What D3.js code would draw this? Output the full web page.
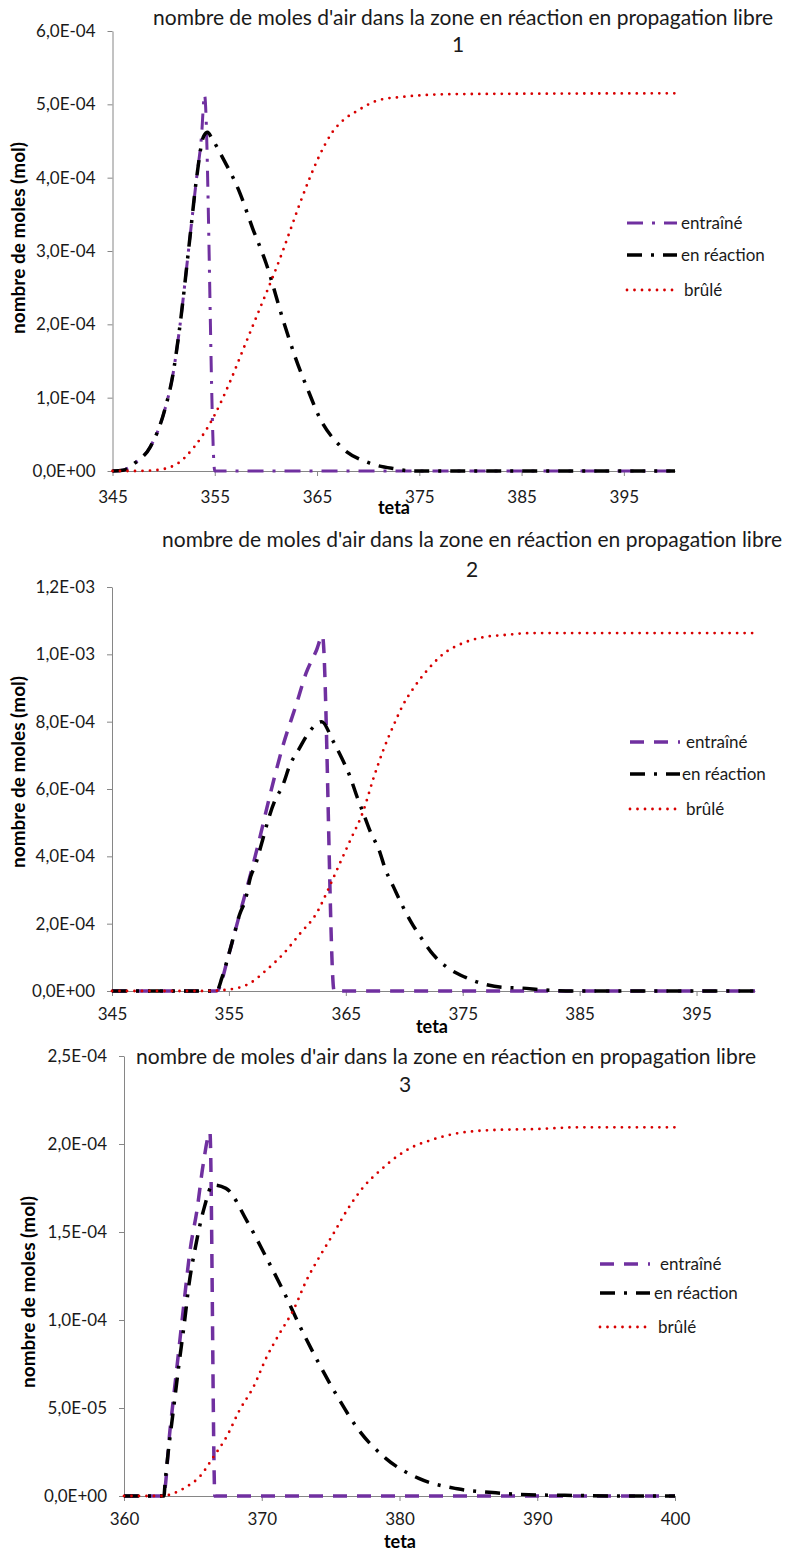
<!DOCTYPE html>
<html>
<head>
<meta charset="utf-8">
<script src="https://cdn.jsdelivr.net/npm/d3@7"></script>
<style>
  body { margin: 0; background: #fff; }
  text { font-family: Lato, "Open Sans", sans-serif; }
</style>
</head>
<body>
<div id="chart"></div>
<script>
// ---- data, chart 1 (mol x 1e-4) ----
const teta1Entraine = [345, 346, 347.2, 348.7, 350.1, 350.9, 351.5, 352.6, 353.2, 353.7, 354.0, 355.0, 400];
const entraine1 = [0, 0.01, 0.11, 0.33, 0.83, 1.31, 1.88, 3.22, 3.97, 4.56, 5.13, 0, 0];
const teta1Reaction = [345, 346, 347.2, 348.7, 350.1, 350.9, 351.5, 352.6, 353.2, 353.9, 354.3, 354.7, 355.7, 357.4, 358.7, 360.0, 361.7, 362.9, 364.3, 365.2, 367.2, 370.1, 372.6, 374.5, 400];
const reaction1 = [0, 0.01, 0.11, 0.33, 0.83, 1.31, 1.88, 3.22, 3.97, 4.56, 4.62, 4.54, 4.29, 3.81, 3.31, 2.84, 2.05, 1.54, 1.04, 0.74, 0.35, 0.11, 0.03, 0, 0];
const teta1Brule = [345, 347, 349.1, 351.1, 353.0, 354.9, 356.5, 357.9, 359.6, 360.6, 361.6, 362.5, 363.3, 364.3, 365.2, 366.5, 367.7, 368.8, 371.1, 373.2, 376.0, 379.0, 400];
const brule1 = [0, 0, 0.01, 0.08, 0.33, 0.74, 1.22, 1.7, 2.28, 2.62, 2.98, 3.33, 3.64, 4.0, 4.29, 4.62, 4.8, 4.9, 5.06, 5.10, 5.13, 5.14, 5.15];

// ---- data, chart 2 (mol x 1e-4) ----
const teta2Entraine = [345, 353.95, 355.0, 355.9, 356.8, 357.5, 358.5, 359.6, 360.8, 361.6, 362.5, 363.0, 364.0, 400];
const entraine2 = [0, 0, 1.1, 2.26, 3.4, 4.35, 5.8, 7.26, 8.55, 9.44, 10.13, 10.55, 0, 0];
const teta2Reaction = [345, 353.95, 354.4, 355.0, 355.4, 355.9, 356.4, 356.86, 357.26, 357.9, 358.3, 358.9, 359.6, 360.2, 361.0, 361.9, 362.94, 363.9, 364.65, 365.36, 365.96, 366.5, 367.1, 367.84, 368.4, 369.07, 369.8, 370.6, 371.5, 372.5, 373.8, 375.2, 376.8, 378.4, 379.9, 382, 385, 400];
const reaction2 = [0, 0, 0.39, 1.1, 1.61, 2.26, 2.7, 3.4, 3.74, 4.51, 5.01, 5.63, 6.1, 6.7, 7.19, 7.71, 8.0, 7.43, 6.92, 6.37, 5.77, 5.28, 4.73, 4.19, 3.6, 3.1, 2.56, 2.04, 1.55, 1.07, 0.67, 0.41, 0.21, 0.11, 0.09, 0.03, 0, 0];
const teta2Brule = [345, 353, 355.1, 356.8, 358.2, 359.7, 361.1, 362.5, 363.6, 364.5, 365.4, 366.5, 367.35, 368.2, 369.1, 369.9, 370.8, 371.9, 373.3, 375.0, 376.8, 378.8, 380.6, 400];
const brule2 = [0, 0, 0.05, 0.23, 0.62, 1.12, 1.71, 2.31, 3.1, 3.8, 4.49, 5.35, 6.3, 7.15, 7.9, 8.5, 9.0, 9.5, 10.0, 10.33, 10.51, 10.58, 10.63, 10.63];

// ---- data, chart 3 (mol x 1e-5) ----
const teta3Entraine = [360, 362.86, 363.34, 363.82, 364.3, 364.8, 365.3, 365.76, 366.24, 366.6, 400];
const entraine3 = [0, 0, 3.75, 7.16, 10.57, 13.98, 16.25, 18.9, 20.65, 0, 0];
const teta3Reaction = [360, 362.9, 362.98, 363.65, 364.0, 364.38, 364.72, 365.2, 365.83, 366.44, 367.4, 368.95, 370.3, 371.6, 372.8, 374.1, 375.5, 377.0, 379.0, 381.4, 384.2, 387, 390, 393, 396, 400];
const reaction3 = [0, 0, 0.72, 5.3, 7.54, 9.81, 12.03, 14.2, 16.4, 17.67, 17.48, 15.59, 13.6, 11.6, 9.6, 7.6, 5.64, 3.79, 2.14, 1.0, 0.41, 0.18, 0.06, 0.03, 0, 0];
const teta3Brule = [360, 362.8, 363.6, 364.55, 365.5, 366.5, 367.45, 368.4, 369.4, 370.36, 371.3, 372.3, 373.26, 374.2, 375.2, 376.2, 377.4, 378.6, 379.8, 381.0, 382.2, 384.15, 387, 390, 393, 400];
const brule3 = [0, 0, 0.15, 0.53, 1.1, 2.23, 3.37, 4.89, 6.2, 7.9, 9.24, 10.57, 12.27, 13.6, 14.9, 16.25, 17.57, 18.5, 19.28, 19.85, 20.2, 20.6, 20.8, 20.85, 20.95, 20.95];

// ---- ticks and labels ----
const xTicks1 = [345, 355, 365, 375, 385, 395];
const xTicks3 = [360, 370, 380, 390, 400];
const yTicks1 = [0, 1e-4, 2e-4, 3e-4, 4e-4, 5e-4, 6e-4];
const yTicks2 = [0, 2e-4, 4e-4, 6e-4, 8e-4, 1e-3, 1.2e-3];
const yTicks3 = [0, 5e-5, 1e-4, 1.5e-4, 2e-4, 2.5e-4];
const seriesNames = ['entraîné', 'en réaction', 'brûlé'];
const titleText = "nombre de moles d'air dans la zone en réaction en propagation libre";
const yTitle = 'nombre de moles (mol)';
const xTitle = 'teta';

const purple = '#7030a0', black = '#000000', red = '#d80000';
const stDashDot = { stroke: purple, width: 3, dash: '16 9 3 9', cap: 'butt' };
const stDash = { stroke: purple, width: 3.5, dash: '14 10', cap: 'butt' };
const stBlack = { stroke: black, width: 3.5, dash: '15 9 3 9', cap: 'butt' };
const stRed = { stroke: red, width: 2.8, dash: '0 7.5', cap: 'round' };

const svg = d3.select('#chart')
  .append('svg')
  .attr('width', 787)
  .attr('height', 1556);

function fmtE(d) {
  if (d === 0) return '0,0E+00';
  const e = Math.floor(Math.log10(d) + 1e-9);
  const m = d / Math.pow(10, e);
  return m.toFixed(1).replace('.', ',') + 'E' + (e < 0 ? '-' : '+') + String(Math.abs(e)).padStart(2, '0');
}

function styled(sel, st) {
  return sel.attr('fill', 'none')
    .attr('stroke', st.stroke)
    .attr('stroke-width', st.width)
    .attr('stroke-dasharray', st.dash)
    .attr('stroke-linecap', st.cap);
}

function drawChart(c) {
  const x = d3.scaleLinear().domain(c.xDomain).range([c.left, c.right]);
  const y = d3.scaleLinear().domain(c.yDomain).range([c.bottom, c.top]);
  const g = svg.append('g');

  // axes
  const ya = g.append('g')
    .attr('transform', `translate(${c.left},0)`)
    .call(d3.axisLeft(y).tickValues(c.yTicks).tickFormat(fmtE).tickSize(5).tickSizeOuter(0).tickPadding(12));
  const xa = g.append('g')
    .attr('transform', `translate(0,${c.bottom})`)
    .call(d3.axisBottom(x).tickValues(c.xTicks).tickFormat(d3.format('d')).tickSize(5).tickSizeOuter(0).tickPadding(c.xPad));
  [ya, xa].forEach(a => {
    a.select('.domain').attr('stroke', '#868686');
    a.selectAll('.tick line').attr('stroke', '#868686');
    a.selectAll('.tick text').attr('fill', '#1a1a1a').style('font-size', '17px').style('font-family', 'Lato');
  });

  // series
  const line = d3.line()
    .x(d => x(d[0]))
    .y(d => y(d[1]))
    .curve(d3.curveMonotoneX);
  c.series.forEach(s => {
    const pts = s.t.map((t, i) => [t, s.v[i] * c.unit]);
    styled(g.append('path').attr('d', line(pts)), s.st);
  });

  // titles
  g.append('text').attr('x', c.t1[0]).attr('y', c.t1[1]).attr('text-anchor', 'middle')
    .style('font-size', '21px').attr('fill', '#1a1a1a').text(titleText);
  g.append('text').attr('x', c.t2[0]).attr('y', c.t2[1]).attr('text-anchor', 'middle')
    .style('font-size', '21px').attr('fill', '#1a1a1a').text(c.num);
  g.append('text')
    .attr('transform', `translate(${c.yt[0]},${c.yt[1]}) rotate(-90)`)
    .attr('text-anchor', 'middle').attr('dy', '0.35em')
    .style('font-size', '19px').style('font-weight', 'bold').text(yTitle);
  g.append('text').attr('x', c.xt[0]).attr('y', c.xt[1]).attr('text-anchor', 'middle')
    .style('font-size', '18px').style('font-weight', 'bold').text(xTitle);

  // legend
  c.series.forEach((s, i) => {
    const ly = c.legY[i];
    styled(g.append('line').attr('x1', c.legX[0]).attr('x2', c.legX[1]).attr('y1', ly).attr('y2', ly), s.st);
    g.append('text').attr('x', c.legTextX[i]).attr('y', ly).attr('dy', '0.35em')
      .style('font-size', '17px').attr('fill', '#1a1a1a').text(seriesNames[i]);
  });
}

drawChart({
  xDomain: [345, 400], yDomain: [0, 6e-4], left: 112.5, right: 675, top: 31, bottom: 471,
  xTicks: xTicks1, yTicks: yTicks1, xPad: 15, unit: 1e-4, num: '1',
  series: [
    { t: teta1Entraine, v: entraine1, st: stDashDot },
    { t: teta1Reaction, v: reaction1, st: stBlack },
    { t: teta1Brule, v: brule1, st: stRed }
  ],
  t1: [463, 25], t2: [458, 52], yt: [18, 238], xt: [394, 514],
  legY: [223, 255, 290], legX: [627, 677], legTextX: [681, 681, 684]
});

drawChart({
  xDomain: [345, 400], yDomain: [0, 1.2e-3], left: 112, right: 755, top: 587, bottom: 991,
  xTicks: xTicks1, yTicks: yTicks2, xPad: 12, unit: 1e-4, num: '2',
  series: [
    { t: teta2Entraine, v: entraine2, st: stDash },
    { t: teta2Reaction, v: reaction2, st: stBlack },
    { t: teta2Brule, v: brule2, st: stRed }
  ],
  t1: [472, 547], t2: [472, 577], yt: [18, 772], xt: [432, 1033],
  legY: [742, 774, 809], legX: [630, 680], legTextX: [686, 682, 686]
});

drawChart({
  xDomain: [360, 400], yDomain: [0, 2.5e-4], left: 124, right: 675, top: 1056, bottom: 1496,
  xTicks: xTicks3, yTicks: yTicks3, xPad: 12, unit: 1e-5, num: '3',
  series: [
    { t: teta3Entraine, v: entraine3, st: stDash },
    { t: teta3Reaction, v: reaction3, st: stBlack },
    { t: teta3Brule, v: brule3, st: stRed }
  ],
  t1: [446, 1064], t2: [405, 1092], yt: [28, 1292], xt: [400, 1548],
  legY: [1264, 1293, 1327], legX: [600, 650], legTextX: [660, 654, 658]
});
</script>
</body>
</html>
